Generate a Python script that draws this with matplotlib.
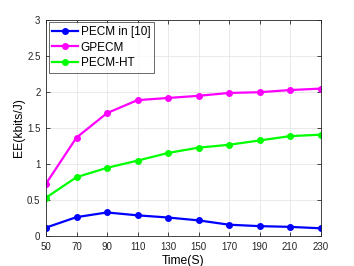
import matplotlib
matplotlib.use("Agg")
import matplotlib.pyplot as plt

# data
time_s = [50, 70, 90, 110, 130, 150, 170, 190, 210, 230]
ee_pecm10 = [0.11, 0.255, 0.32, 0.28, 0.25, 0.21, 0.15, 0.13, 0.12, 0.10]
ee_gpecm = [0.72, 1.36, 1.70, 1.88, 1.91, 1.94, 1.98, 1.99, 2.02, 2.04]
ee_pecm_ht = [0.525, 0.81, 0.94, 1.04, 1.146, 1.22, 1.26, 1.32, 1.38, 1.40]
y_ticks = [0, 0.5, 1, 1.5, 2, 2.5, 3]
y_tick_labels = ["0", "0.5", "1", "1.5", "2", "2.5", "3"]

plt.rcParams['font.family'] = ['Liberation Sans', 'DejaVu Sans']

fig = plt.figure(figsize=(3.54, 2.66), dpi=100)
ax = fig.add_axes([46 / 354, 1 - 235.5 / 266, (320.5 - 46) / 354, (235.5 - 19.5) / 266])

ax.plot(time_s, ee_pecm10, color='#0000ff', marker='o', markersize=4, linewidth=1.6, label='PECM in [10]')
ax.plot(time_s, ee_gpecm, color='#ff00ff', marker='o', markersize=4, linewidth=1.6, label='GPECM')
ax.plot(time_s, ee_pecm_ht, color='#00ff00', marker='o', markersize=4, linewidth=1.6, label='PECM-HT')

ax.set_xlim(50, 230)
ax.set_ylim(0, 3)
ax.set_xticks(time_s)
ax.set_yticks(y_ticks)
ax.set_yticklabels(y_tick_labels)
ax.tick_params(labelsize=7, colors='#262626', direction='in', length=3, width=0.6,
               top=True, right=True)
ax.tick_params(axis='x', pad=5)
ax.tick_params(axis='y', pad=4)
ax.grid(True, color='#e6e6e6', linewidth=0.6)
ax.set_axisbelow(True)
for sp in ax.spines.values():
    sp.set_color('#262626')
    sp.set_linewidth(0.6)

ax.set_xlabel('Time(S)', fontsize=8.7, labelpad=2)
ax.set_ylabel('EE(kbits/J)', fontsize=8.7)
ax.yaxis.set_label_coords(-0.075, 0.5)

leg = ax.legend(loc='upper left', fontsize=8.5, frameon=True, fancybox=False,
                borderpad=0.3, labelspacing=0.3, handlelength=2.2, handletextpad=0.2,
                borderaxespad=0.25)
leg.get_frame().set_edgecolor('#262626')
leg.get_frame().set_linewidth(0.6)

fig.savefig('out.png', dpi=100)
